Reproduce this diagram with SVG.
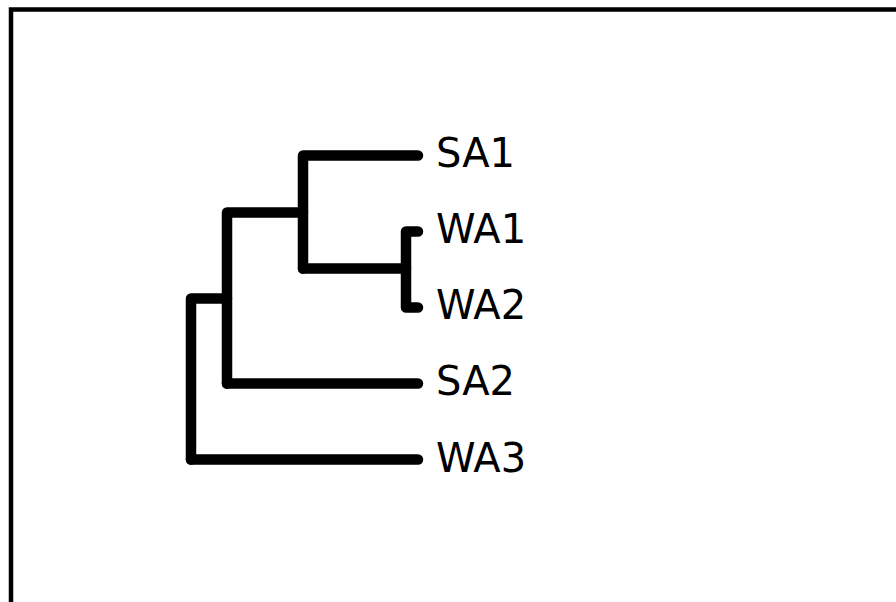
<svg xmlns="http://www.w3.org/2000/svg" width="896" height="602" viewBox="0 0 896 602">
<style>
.frame{fill:none;stroke:#000;stroke-width:4.5}
.br{fill:none;stroke:#000;stroke-width:10.5;stroke-linecap:round;stroke-linejoin:round}
.lbl{font-family:"DejaVu Sans",sans-serif;font-size:40px;fill:#000}
</style>
<rect width="896" height="602" fill="#fff"/>
<rect class="frame" x="11" y="9.5" width="900" height="620"/>
<g id="connectors">
<path class="br" d="M191,459.5 V298.5 H227"/>
<path class="br" d="M191,459.5 H418"/>
<path class="br" d="M227,383.5 V212.5 H303"/>
<path class="br" d="M227,383.5 H418"/>
<path class="br" d="M303,268.5 V155.5 H418"/>
<path class="br" d="M303,268.5 H406"/>
<path class="br" d="M418,231.5 H406 V307.5 H418"/>
</g>
<g id="SA1"><text class="lbl" x="436" y="166.5">SA1</text></g>
<g id="WA1"><text class="lbl" x="436" y="242.5">WA1</text></g>
<g id="WA2"><text class="lbl" x="436" y="318.5">WA2</text></g>
<g id="SA2"><text class="lbl" x="436" y="394.5">SA2</text></g>
<g id="WA3"><text class="lbl" x="436" y="471.5">WA3</text></g>
</svg>
